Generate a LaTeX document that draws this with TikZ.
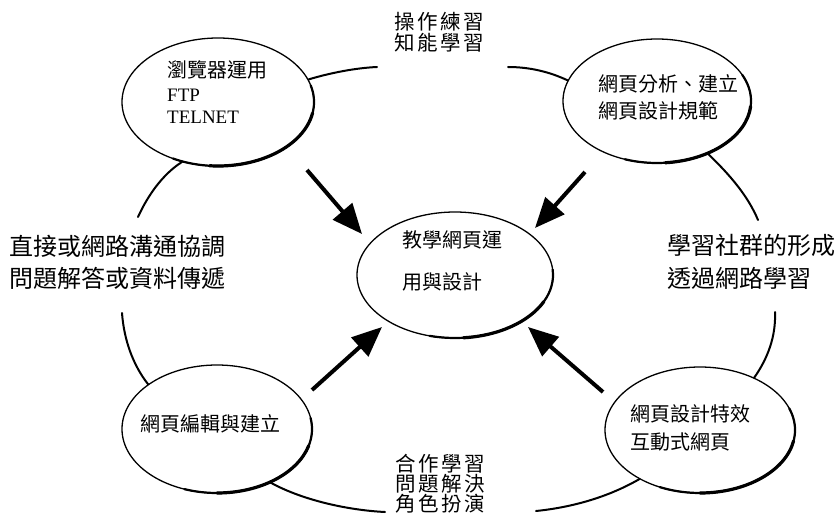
\documentclass[tikz,border=0pt]{standalone}
\usepackage{fontspec}
\setmainfont{Liberation Serif}
\newfontfamily\cjk{Noto Sans CJK TC}
\newfontfamily\cjkwide[LetterSpace=12]{Noto Sans CJK TC}
\usetikzlibrary{shapes.geometric,arrows.meta}
\begin{document}
\begin{tikzpicture}[x=1pt,y=-1pt,
  ell/.style={ellipse,draw,line width=1.3pt,inner sep=0pt},
  rimA/.style={line width=2.2pt,line cap=round},
  rimB/.style={line width=3.2pt,line cap=round},
  ring/.style={line width=2pt,line cap=round},
  arr/.style={line width=4pt,-{Triangle[length=30pt,width=25pt]}},
  tx/.style={inner sep=0pt,anchor=base west,font=\cjk\fontsize{20}{24}\selectfont},
  lat/.style={inner sep=0pt,anchor=base west,font=\fontsize{19}{22}\selectfont},
  big/.style={inner sep=0pt,anchor=base west,font=\cjk\fontsize{24}{28}\selectfont},
  mid/.style={inner sep=0pt,anchor=base west,font=\cjkwide\fontsize{20.5}{24}\selectfont}]
\useasboundingbox[fill=white] (0,0) rectangle (838,527);

% ellipses
\node[ell,minimum width=192pt,minimum height=128pt] (tl) at (218,102) {};
\node[ell,minimum width=188pt,minimum height=124pt] (tr) at (657,101) {};
\node[ell,minimum width=196pt,minimum height=126pt] (c)  at (455,275) {};
\node[ell,minimum width=190pt,minimum height=128pt] (bl) at (217,429) {};
\node[ell,minimum width=190pt,minimum height=126pt] (br) at (700,430) {};

% heavier lower-right rims
\draw[rimA] (218,102) ++(-15:96 and 64) arc[start angle=-15,end angle=118,x radius=96,y radius=64];
\draw[rimB] (218,102) ++(10:96 and 64) arc[start angle=10,end angle=95,x radius=96,y radius=64];
\draw[rimA] (657,101) ++(-25:94 and 62) arc[start angle=-25,end angle=110,x radius=94,y radius=62];
\draw[rimB] (657,101) ++(5:94 and 62) arc[start angle=5,end angle=85,x radius=94,y radius=62];
\draw[rimA] (455,275) ++(-5:98 and 63) arc[start angle=-5,end angle=105,x radius=98,y radius=63];
\draw[rimB] (455,275) ++(25:98 and 63) arc[start angle=25,end angle=85,x radius=98,y radius=63];
\draw[rimA] (217,429) ++(-10:95 and 64) arc[start angle=-10,end angle=110,x radius=95,y radius=64];
\draw[rimB] (217,429) ++(15:95 and 64) arc[start angle=15,end angle=90,x radius=95,y radius=64];
\draw[rimA] (700,430) ++(-20:95 and 63) arc[start angle=-20,end angle=115,x radius=95,y radius=63];
\draw[rimB] (700,430) ++(10:95 and 63) arc[start angle=10,end angle=90,x radius=95,y radius=63];

% texts inside ellipses
\node[tx] (tl1) at (167,77.5) {瀏覽器運用};
\node[lat] (tl2) at (167,102) {FTP};
\node[lat] (tl3) at (167,123) {TELNET};
\node[tx] (tr1) at (598,92) {網頁分析、建立};
\node[tx] (tr2) at (598,118) {網頁設計規範};
\node[tx] (c1) at (402,247) {教學網頁運};
\node[tx] (c2) at (402,289) {用與設計};
\node[tx] (bl1) at (140,431) {網頁編輯與建立};
\node[tx] (br1) at (630,421) {網頁設計特效};
\node[tx] (br2) at (630,449) {互動式網頁};

% ring labels
\node[mid] (tp1) at (394,30) {操作練習};
\node[mid] (tp2) at (394,51) {知能學習};
\node[mid] (bt1) at (395,471.5) {合作學習};
\node[mid] (bt2) at (395,491.5) {問題解決};
\node[mid] (bt3) at (395,511.5) {角色扮演};
\node[big] (lf1) at (9,255) {直接或網路溝通協調};
\node[big] (lf2) at (9,287) {問題解答或資料傳遞};
\node[big] (rt1) at (667,254) {學習社群的形成};
\node[big] (rt2) at (667,287) {透過網路學習};

% ring segment ends
\coordinate (s1) at (377,67);
\coordinate (s2) at (508,67);
\coordinate (s3) at (758,220);
\coordinate (s4) at (775,312);
\coordinate (s5) at (536,511);
\coordinate (s6) at (385,512);
\coordinate (s7) at (122,313);
\coordinate (s8) at (138,217);

\draw[ring] (tl.14) .. controls (330,73) and (355,68) .. (s1);
\draw[ring] (s2) .. controls (530,67) and (550,72) .. (tr.167);
\draw[ring] (tr.-46) .. controls (730,175) and (748,196) .. (s3);
\draw[ring] (s4) .. controls (776,336) and (768,358) .. (br.44);
\draw[ring] (br.-141) .. controls (610,496) and (575,507) .. (s5);
\draw[ring] (s6) .. controls (345,510) and (300,499) .. (bl.-45);
\draw[ring] (bl.147) .. controls (133,365) and (124,340) .. (s7);
\draw[ring] (s8) .. controls (148,195) and (163,174) .. (tl.-121);

% arrows to centre
\coordinate (a1) at (307,170);  \coordinate (b1) at (362,234);
\coordinate (a2) at (585,172);  \coordinate (b2) at (535,228);
\coordinate (a3) at (312,390);  \coordinate (b3) at (382,327);
\coordinate (a4) at (603,392);  \coordinate (b4) at (528,327);
\draw[arr] (a1) -- (b1);
\draw[arr] (a2) -- (b2);
\draw[arr] (a3) -- (b3);
\draw[arr] (a4) -- (b4);
\end{tikzpicture}
\end{document}
